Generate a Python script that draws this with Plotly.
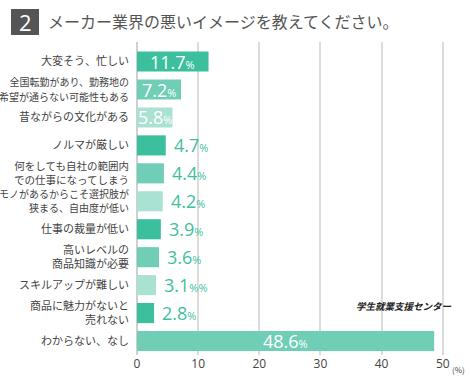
import plotly.graph_objects as go

categories = [
    "大変そう、忙しい",
    "全国転勤があり、勤務地の<br>希望が通らない可能性もある",
    "昔ながらの文化がある",
    "ノルマが厳しい",
    "何をしても自社の範囲内<br>での仕事になってしまう",
    "モノがあるからこそ選択肢が<br>狭まる、自由度が低い",
    "仕事の裁量が低い",
    "高いレベルの<br>商品知識が必要",
    "スキルアップが難しい",
    "商品に魅力がないと<br>売れない",
    "わからない、なし",
]
values = [11.7, 7.2, 5.8, 4.7, 4.4, 4.2, 3.9, 3.6, 3.1, 2.8, 48.6]
value_suffix = ["%", "%", "%", "%", "%", "%", "%", "%", "%%", "%", "%"]
inside_label = [True, True, True, False, False, False, False, False, False, False, True]
shade = ["dark", "mid", "light", "dark", "mid", "light", "dark", "mid", "light", "dark", "mid"]
label_size = [11, 10, 11, 11, 10.5, 10, 11, 11, 11, 11, 11]
x_ticks = [0, 10, 20, 30, 40, 50]

palette = {"dark": "#3cbf9c", "mid": "#70cdb6", "light": "#a9e1d2"}
label_color = "#3fbf9e"
FONT = "Noto Sans CJK JP"

W, H = 471, 382
L, R, T, B = 137, 16, 42, 27
PW, PH = W - L - R, H - T - B

def px(x):
    return (x - L) / PW

def py(y):
    return 1 - (y - T) / PH

idx = list(range(len(categories)))
tick_text = [f"<span style='font-size:{s}px'>{c}</span>".replace("<br>", f"</span><br><span style='font-size:{s}px'>")
             for c, s in zip(categories, label_size)]

fig = go.Figure()
fig.add_trace(go.Bar(
    y=idx, x=values, orientation="h", width=0.72,
    marker=dict(color=[palette[s] for s in shade], line=dict(width=0)),
    hoverinfo="skip",
))

for i, (v, suf, inside) in enumerate(zip(values, value_suffix, inside_label)):
    txt = f"{v:.1f}<span style='font-size:11px'>{suf}</span>"
    if inside:
        fig.add_annotation(x=v / 2, y=i, xref="x", yref="y", text=txt,
                           showarrow=False, xanchor="center", yanchor="middle",
                           font=dict(family="Open Sans", size=18, color="white"))
    else:
        fig.add_annotation(x=v, y=i, xref="x", yref="y", text=txt,
                           showarrow=False, xanchor="left", yanchor="middle", xshift=6,
                           font=dict(family="Open Sans", size=18, color=label_color))

# title block
fig.add_shape(type="rect", xref="paper", yref="paper",
              x0=px(11), x1=px(39), y0=py(35), y1=py(9),
              fillcolor="#555555", line=dict(width=0))
fig.add_annotation(xref="paper", yref="paper", x=px(25), y=py(22), text="2",
                   showarrow=False, xanchor="center", yanchor="middle",
                   font=dict(family="Open Sans", size=22, color="white"))
fig.add_annotation(xref="paper", yref="paper", x=px(46), y=py(21),
                   text="メーカー業界の悪いイメージを教えてください。",
                   showarrow=False, xanchor="left", yanchor="middle",
                   font=dict(family=FONT, size=16, color="#555555"))

# source watermark
fig.add_annotation(xref="paper", yref="paper", x=px(404), y=py(306),
                   text="<b><i>学生就業支援センター</i></b>",
                   showarrow=False, xanchor="center", yanchor="middle",
                   font=dict(family=FONT, size=9.5, color="#222222"))
# unit
fig.add_annotation(xref="paper", yref="paper", x=px(450), y=py(369), text="(%)",
                   showarrow=False, xanchor="left", yanchor="middle",
                   font=dict(family=FONT, size=8, color="#444444"))

fig.update_layout(
    width=W, height=H,
    margin=dict(l=L, r=R, t=T, b=B, pad=0, autoexpand=False),
    paper_bgcolor="white", plot_bgcolor="white",
    showlegend=False,
    font=dict(family=FONT, size=11, color="#444444"),
    xaxis=dict(range=[0, 52], tickvals=x_ticks, ticktext=[str(t) for t in x_ticks],
               automargin=False,
               showgrid=True, gridcolor="#dcdcdc", gridwidth=1.5,
               zeroline=True, zerolinecolor="#cfcfcf", zerolinewidth=1.5,
               showline=False, ticks="", tickfont=dict(family="Open Sans", size=12, color="#444444"),
               fixedrange=True),
    yaxis=dict(range=[10.5, -0.7], tickvals=idx, ticktext=tick_text,
               automargin=False,
               showgrid=False, zeroline=False, showline=False, ticks="",
               ticklabelstandoff=7,
               tickfont=dict(family=FONT, size=11, color="#444444"),
               fixedrange=True),
)

fig.write_html("out.html", config={"displayModeBar": False},
               post_script="document.body.style.margin='0';document.body.style.overflow='hidden';")
